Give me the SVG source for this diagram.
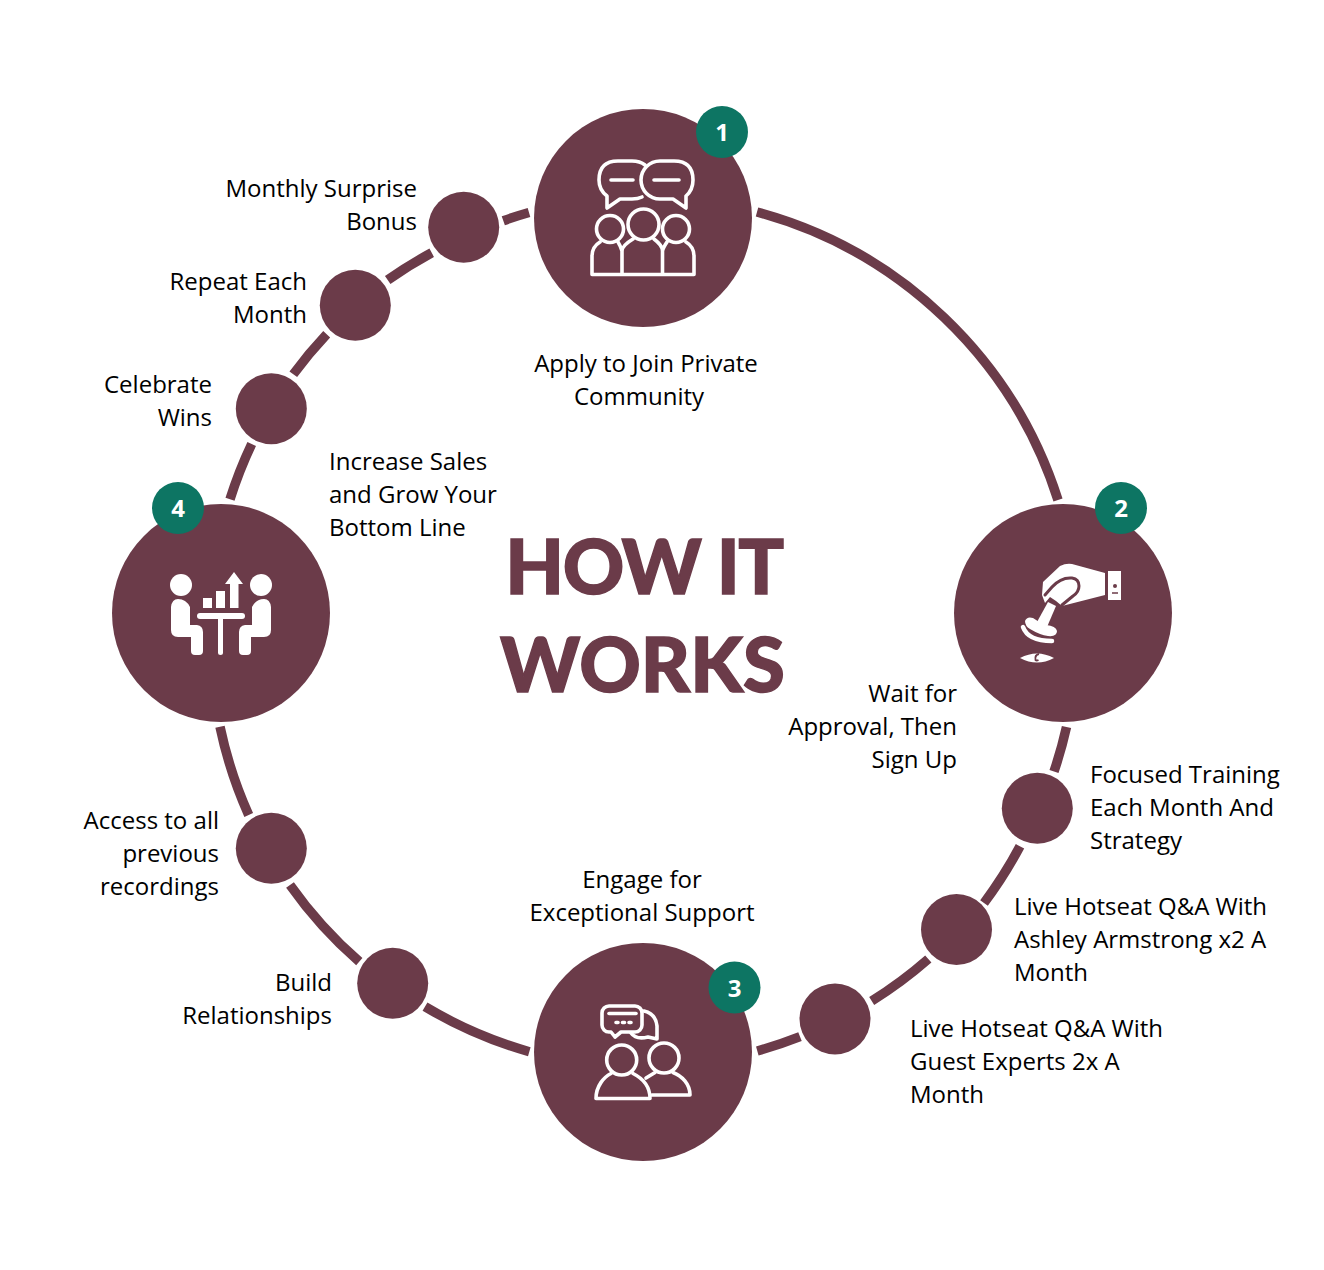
<svg xmlns="http://www.w3.org/2000/svg" width="1324" height="1270" viewBox="0 0 1324 1270">
<style>
.t{font-family:"Open Sans",sans-serif;font-size:24px;fill:#000}
.e{text-anchor:end}
.m{text-anchor:middle}
.title{font-family:Lato,sans-serif;font-weight:900;font-size:76px;fill:#6b3b49;stroke:#6b3b49;stroke-width:1.4;text-anchor:middle}
.big{fill:#6b3b49}
.small{fill:#6b3b49}
.badge{fill:#0d7563}
.num{font-family:"Open Sans",sans-serif;font-weight:700;font-size:24px;fill:#fff;text-anchor:middle}
.line{fill:none;stroke:#fff;stroke-width:3.6;stroke-linejoin:round;stroke-linecap:round}
.fill{fill:#fff}
.cut{fill:none;stroke:#6b3b49;stroke-width:3;stroke-linecap:round;stroke-linejoin:round}
.conn{fill:none;stroke:#6b3b49;stroke-width:9.500}
</style>
<rect width="1324" height="1270" fill="#fff"/>
<g id="connectors">
<path class="conn" d="M757 212A435 435 0 0 1 1058 500"/>
<path class="conn" d="M1066.500 727A435 435 0 0 1 1054 771.500"/>
<path class="conn" d="M1020 846.300A435 435 0 0 1 984 903"/>
<path class="conn" d="M928.300 959A435 435 0 0 1 871.700 1001"/>
<path class="conn" d="M800 1036.700A435 435 0 0 1 757.300 1051"/>
<path class="conn" d="M529.300 1051.700A435 435 0 0 1 425 1006.700"/>
<path class="conn" d="M359.300 961.700A435 435 0 0 1 290 885"/>
<path class="conn" d="M248.700 815A435 435 0 0 1 220 726.700"/>
<path class="conn" d="M230 499.300A435 435 0 0 1 251.700 444"/>
<path class="conn" d="M293.300 374.300A435 435 0 0 1 326.700 334.300"/>
<path class="conn" d="M387.700 280A435 435 0 0 1 431.700 252.700"/>
<path class="conn" d="M503.300 220.700A435 435 0 0 1 529 212.500"/>
</g>
<g id="node-1">
<circle class="big" cx="643" cy="218" r="109"/>
<path class="line" d="M607 208V196Q599 190 599 180Q599 161 618 161H632Q640 161 645 165M607 208L620 199H632Q638 199 642 197"/>
<path class="line" d="M686 208V196Q693 190 693 180Q693 161 674 161H660A19 19 0 0 0 660 199H673Z"/>
<path class="line" d="M611 180H633M654 180H679"/>
<circle class="line" cx="610" cy="229" r="13.500"/>
<circle class="line" cx="643.500" cy="224.500" r="15.500"/>
<circle class="line" cx="676" cy="229" r="13.500"/>
<path class="line" d="M622 274.500V251C622 246 628 242 633 239M662.500 274.500V251C662.500 246 658 242 654 239M600 242C595 245 592 250 592 256V274.500H694V256C694 250 691 245 686 242M622 251C621 248 620 245 618 242M662.500 251C663 248 665 245 667 242"/>
<circle class="badge" cx="722" cy="132" r="26"/>
<text class="num" x="722" y="141">1</text>
<text class="t m" x="646" y="372">Apply to Join Private</text>
<text class="t m" x="639" y="405">Community</text>
</g>
<g id="node-2">
<circle class="big" cx="1063" cy="613" r="109"/>
<path class="fill" d="M1043 582L1060 566Q1066 563 1072 564L1105 573V595L1062 606L1056 601L1050 597L1045 603L1042 595Z"/>
<path class="cut" d="M1045 595L1052 587Q1061 577 1072 578Q1079 579 1079 586Q1079 592 1073 596L1062 605"/>
<path class="fill" d="M1108 571H1121V600H1108Z"/>
<circle cx="1115" cy="586" r="2" fill="#6b3b49"/>
<path d="M1112 593H1118" stroke="#6b3b49" stroke-width="1.500" fill="none"/>
<path class="fill" d="M1048 602L1056 606L1047 627L1037 622Z"/>
<path class="fill" d="M1025 621Q1027 616 1033 618Q1038 622 1046 625Q1056 626 1057 631Q1057 637 1048 636Q1040 635 1030 629Q1025 626 1025 621Z"/>
<path d="M1023 627Q1028 641 1052 641" fill="none" stroke="#fff" stroke-width="4.500" stroke-linecap="round"/>
<path class="fill" d="M1020 658Q1037 649 1054 658Q1037 667 1020 658Z"/>
<path d="M1039 654Q1034.500 655 1035.500 660Q1036.500 661 1038.500 660" fill="none" stroke="#6b3b49" stroke-width="1.800"/>
<circle class="badge" cx="1121" cy="508" r="26"/>
<text class="num" x="1121" y="517">2</text>
<text class="t e" x="957" y="702">Wait for</text>
<text class="t e" x="957" y="735">Approval, Then</text>
<text class="t e" x="957" y="768">Sign Up</text>
</g>
<g id="node-3">
<circle class="big" cx="643" cy="1052" r="109"/>
<path class="line" d="M609 1006H635A7 7 0 0 1 642 1013V1025A7 7 0 0 1 635 1032H621L615 1037L611 1032H609A7 7 0 0 1 602 1025V1013A7 7 0 0 1 609 1006Z"/>
<path class="line" d="M644 1011Q656 1014 657 1026V1039L648 1037Q636 1040 631 1033"/>
<path class="line" d="M609 1013.500H636"/>
<path class="line" stroke-dasharray="2 4.500" stroke-linecap="butt" d="M616 1022.500H631"/>
<circle class="line" cx="621.700" cy="1060" r="15"/>
<circle class="line" cx="664" cy="1058" r="15"/>
<path class="line" d="M596 1098.500C596 1086 604 1077 611 1073.500M633 1073.500C642 1078 650 1086 650 1098.500H596M646 1078L655 1072.500M673 1072.500C682 1076 690 1084 690 1095H652"/>
<circle class="badge" cx="734.500" cy="987.500" r="26"/>
<text class="num" x="734.500" y="996.500">3</text>
<text class="t m" x="642" y="888">Engage for</text>
<text class="t m" x="642" y="921">Exceptional Support</text>
</g>
<g id="node-4">
<circle class="big" cx="221" cy="613" r="109"/>
<circle class="fill" cx="181" cy="585" r="11"/>
<circle class="fill" cx="261" cy="585" r="11"/>
<path class="fill" d="M171 607Q172 599 178 599Q186 599 190 607V625H197Q203 626 203 632V651Q203 655 199 655H195Q191 655 191 651V637H178Q171 637 171 630Z"/>
<path class="fill" d="M271 607Q270 599 264 599Q256 599 252 607V625H245Q239 626 239 632V651Q239 655 243 655H247Q251 655 251 651V637H264Q271 637 271 630Z"/>
<path d="M200 616H242" stroke="#fff" stroke-width="6" stroke-linecap="round" fill="none"/>
<path d="M220.500 616V652.500" stroke="#fff" stroke-width="5" stroke-linecap="round" fill="none"/>
<path class="fill" d="M203 598H212V608H203ZM216 591H225V608H216ZM230 608V584H225L234 572L243 584H238.500V608Z"/>
<circle class="badge" cx="178" cy="508" r="26"/>
<text class="num" x="178" y="517">4</text>
<text class="t" x="329" y="470">Increase Sales</text>
<text class="t" x="329" y="503">and Grow Your</text>
<text class="t" x="329" y="536">Bottom Line</text>
</g>
<g id="title">
<text class="title" x="644" y="594" letter-spacing="-1.500">HOW IT</text>
<text class="title" x="642.500" y="692">WORKS</text>
</g>
<g id="step-focused"><circle class="small" cx="1037.300" cy="808.300" r="35.500"/>
<text class="t" x="1090" y="783">Focused Training</text><text class="t" x="1090" y="816">Each Month And</text><text class="t" x="1090" y="849">Strategy</text></g>
<g id="step-hotseat-ashley"><circle class="small" cx="956.500" cy="929.500" r="35.500"/>
<text class="t" x="1014" y="915">Live Hotseat Q&amp;A With</text><text class="t" x="1014" y="948">Ashley Armstrong x2 A</text><text class="t" x="1014" y="981">Month</text></g>
<g id="step-hotseat-guest"><circle class="small" cx="835" cy="1019" r="35.500"/>
<text class="t" x="910" y="1037">Live Hotseat Q&amp;A With</text><text class="t" x="910" y="1070">Guest Experts 2x A</text><text class="t" x="910" y="1103">Month</text></g>
<g id="step-build"><circle class="small" cx="392.700" cy="983.300" r="35.500"/>
<text class="t e" x="332" y="991">Build</text><text class="t e" x="332" y="1024">Relationships</text></g>
<g id="step-access"><circle class="small" cx="271.300" cy="848.300" r="35.500"/>
<text class="t e" x="219" y="829">Access to all</text><text class="t e" x="219" y="862">previous</text><text class="t e" x="219" y="895">recordings</text></g>
<g id="step-celebrate"><circle class="small" cx="271.300" cy="408.700" r="35.500"/>
<text class="t e" x="212" y="393">Celebrate</text><text class="t e" x="212" y="426">Wins</text></g>
<g id="step-repeat"><circle class="small" cx="355.300" cy="305.300" r="35.500"/>
<text class="t e" x="307" y="290">Repeat Each</text><text class="t e" x="307" y="323">Month</text></g>
<g id="step-bonus"><circle class="small" cx="463.700" cy="227.300" r="35.500"/>
<text class="t e" x="417" y="197">Monthly Surprise</text><text class="t e" x="417" y="230">Bonus</text></g>
</svg>
